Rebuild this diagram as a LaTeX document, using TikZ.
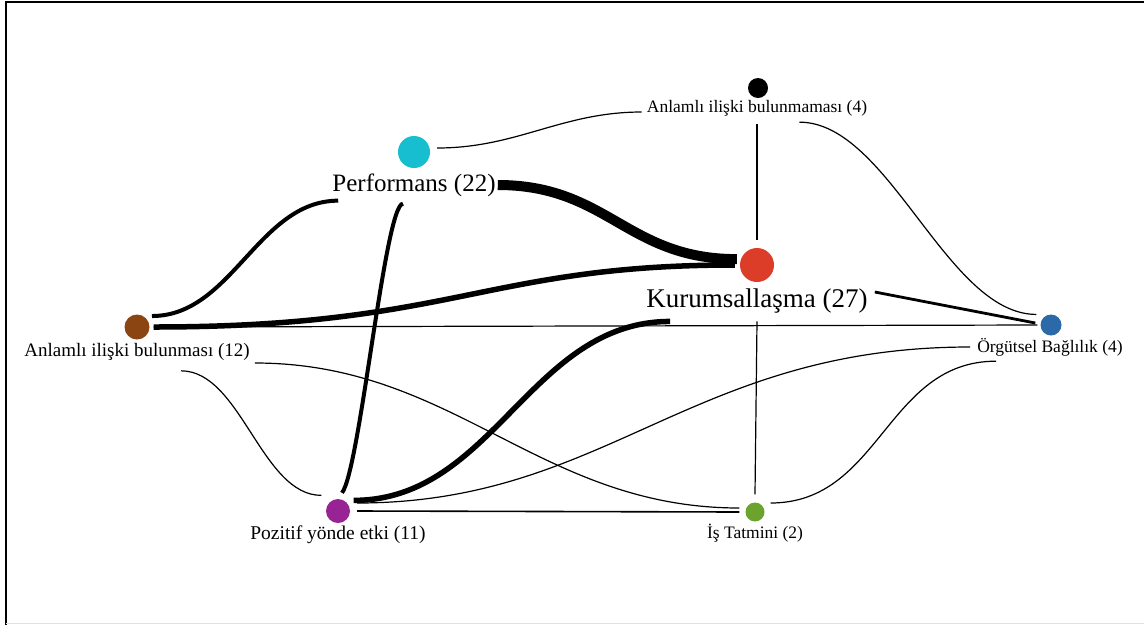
\documentclass[tikz,border=0pt]{standalone}
\usepackage{fontspec}
\setmainfont{Liberation Serif}
\usetikzlibrary{positioning}

\definecolor{perfcol}{HTML}{17BECF}
\definecolor{kurumcol}{HTML}{DB3D28}
\definecolor{anlcol}{HTML}{8B4513}
\definecolor{orgcol}{HTML}{2C69A9}
\definecolor{pozcol}{HTML}{982395}
\definecolor{iscol}{HTML}{6BA32E}

\newcommand{\fsz}[1]{\fontsize{#1pt}{#1pt}\selectfont}

\begin{document}
\begin{tikzpicture}[x=1pt,y=-1pt,
    dot/.style={circle,fill=#1,inner sep=0pt},
    lab/.style={inner sep=0pt,text=black},
    thinline/.style={line width=1.2pt},
    midline/.style={line width=2.8pt},
    fatline/.style={line width=4pt},
    fatterline/.style={line width=5.5pt},
    fattestline/.style={line width=10pt}]
    \useasboundingbox (0,0) rectangle (1144,625);
    \draw[line width=2pt] (6,625) -- (6,1.5) -- (1144,1.5);
    \draw[black!12,line width=1pt] (6,623.5) -- (1144,623.5);

    % nodes
    \node[dot=perfcol, minimum size=32pt] (perf) at (414,152) {};
    \node[lab, font=\fsz{25}] (perfL) at (414,185) {Performans (22)};
    \node[dot=black, minimum size=20pt] (nob) at (758,88) {};
    \node[lab, font=\fsz{17.5}] (nobL) at (757,108) {Anlamlı ilişki bulunmaması (4)};
    \node[dot=kurumcol, minimum size=34pt] (kurum) at (757,265) {};
    \node[lab, font=\fsz{27}] (kurumL) at (757,301) {Kurumsallaşma (27)};
    \node[dot=anlcol, minimum size=25pt] (anl) at (137,327) {};
    \node[lab, font=\fsz{19}] (anlL) at (137,352) {Anlamlı ilişki bulunması (12)};
    \node[dot=orgcol, minimum size=21pt] (org) at (1051,325) {};
    \node[lab, font=\fsz{17.5}] (orgL) at (1050,347) {Örgütsel Bağlılık (4)};
    \node[dot=pozcol, minimum size=24pt] (poz) at (338,511) {};
    \node[lab, font=\fsz{19.5}] (pozL) at (338,535) {Pozitif yönde etki (11)};
    \node[dot=iscol, minimum size=19pt] (is) at (755,512) {};
    \node[lab, font=\fsz{17.5}] (isL) at (755,533) {İş Tatmini (2)};

    % thin links
    \draw[thinline] ([shift={(7pt,4pt)}]perf.east) .. controls +(80,0) and +(-80,0) .. ([shift={(-5pt,-4pt)}]nobL.west);
    \draw[thinline] ([shift={(-68pt,-6pt)}]nobL.south east) .. controls +(90,0) and +(-90,0) .. ([shift={(-7pt,3pt)}]org.north west);
    \draw[line width=1.6pt] ([yshift=-8pt]nobL.south) -- ([yshift=8pt]kurum.north);
    \draw[thinline] ([xshift=4pt]anl.east) -- ([xshift=-3pt]org.west);
    \draw[thinline] ([shift={(44pt,-10pt)}]anlL.south) .. controls +(60,0) and +(-60,0) .. ([shift={(-8pt,7pt)}]poz.north west);
    \draw[thinline] ([shift={(5pt,-11pt)}]anlL.east) .. controls +(200,0) and +(-200,0) .. ([shift={(-6pt,4pt)}]is.west);
    \draw[thinline] ([shift={(7pt,8pt)}]poz.east) .. controls +(250,0) and +(-280,0) .. ([xshift=-7pt]orgL.west);
    \draw[line width=1.6pt] ([xshift=7pt]poz.east) -- ([xshift=-6pt]is.west);
    \draw[thinline] ([shift={(6pt,9pt)}]is.east) .. controls +(110,0) and +(-110,0) .. ([shift={(19pt,-5pt)}]orgL.south west);
    \draw[thinline] ([yshift=8pt]is.north) -- ([yshift=-8pt]kurumL.south);
    \draw[midline] ([shift={(7pt,9pt)}]kurumL.east) -- ([shift={(-5pt,2pt)}]org.west);

    % thick links
    \draw[fatline] ([shift={(6pt,2pt)}]anl.north east) .. controls +(80,0) and +(-80,0) .. ([shift={(6pt,-4pt)}]perfL.south west);
    \draw[fatline] ([shift={(4pt,6pt)}]poz.north) .. controls +(18,-23) and +(-18,0) .. ([shift={(-11pt,-7pt)}]perfL.south);
    \draw[fatterline] ([xshift=4pt]anl.east) .. controls +(300,0) and +(-250,0) .. ([xshift=-5pt]kurum.west);
    \draw[fatterline] ([shift={(7pt,2pt)}]poz.north east) .. controls +(140,0) and +(-140,0) .. ([shift={(24pt,-8pt)}]kurumL.south west);
    \draw[fattestline] ([xshift=2pt]perfL.east) .. controls +(110,0) and +(-110,0) .. ([xshift=-4pt]kurum.160);
\end{tikzpicture}
\end{document}
